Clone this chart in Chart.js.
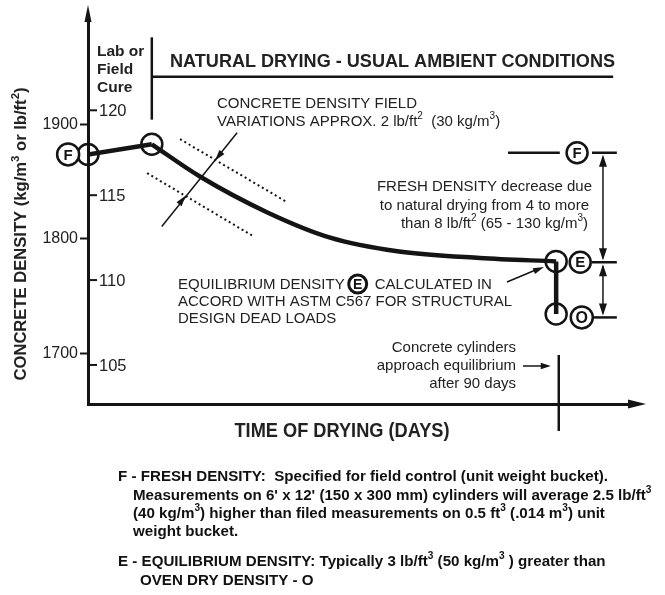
<!DOCTYPE html>
<html>
<head>
<meta charset="utf-8">
<script src="https://cdn.jsdelivr.net/npm/chart.js@4"></script>
<style>
  html, body { margin: 0; padding: 0; background: #fff; }
</style>
</head>
<body>
<canvas id="chart" width="665" height="595"></canvas>
<script>
// Schematic drying curve. x = time of drying (days), y = density in lb/ft3
// (the outer kg/m3 axis is a second scale over the same height)
const cureDays = [0, 12.2];
const cureDensity = [117.4, 118.0];

const dryDays = [12.2, 21.4, 34.2, 46.3, 59.1, 74.9, 89.5];
const dryDensity = [118.0, 116.1, 114.0, 112.5, 111.7, 111.3, 111.1];

const ovenDays = [89.5, 89.5];
const ovenDensity = [111.1, 108.0];

const bandUpperDays = [17.6, 38.0];
const bandUpperDensity = [118.3, 114.6];
const bandLowerDays = [11.3, 31.5];
const bandLowerDensity = [116.3, 112.6];

const markerDays = [0, 12.2, 89.5, 89.5];
const markerDensity = [117.4, 118.0, 111.1, 108.0];

const kgTicks = [1700, 1800, 1900];
const lbTicks = [105, 110, 115, 120];

const freshLevel = 117.5;
const equilLevel = 111.05;
const ovenLevel = 107.8;
const equilDay = 90;

const noteLines = [
  "F - FRESH DENSITY:  Specified for field control (unit weight bucket).",
  "Measurements on 6' x 12' (150 x 300 mm) cylinders will average 2.5 lb/ft{3}",
  "(40 kg/m{3}) higher than filed measurements on 0.5 ft{3} (.014 m{3}) unit",
  "weight bucket.",
  "E - EQUILIBRIUM DENSITY: Typically 3 lb/ft{3} (50 kg/m{3} ) greater than",
  "OVEN DRY DENSITY - O",
];

const FONT = '"Liberation Sans", Arial, Helvetica, sans-serif';
const INK = '#141414';
const TXT = '#222';

const pts = (xs, ys) => xs.map((x, i) => ({ x, y: ys[i] }));

function runsOf(str) {
  const runs = [];
  const re = /\{([^}]*)\}/g;
  let last = 0, m;
  while ((m = re.exec(str))) {
    if (m.index > last) runs.push({ t: str.slice(last, m.index), sup: false });
    runs.push({ t: m[1], sup: true });
    last = re.lastIndex;
  }
  if (last < str.length) runs.push({ t: str.slice(last), sup: false });
  return runs;
}

// text with {..} superscripts; o.fit squeezes to a width, o.sq squeezes by factor
function text(ctx, str, x, y, o = {}) {
  const size = o.size || 15;
  const wt = o.weight || 'normal';
  const main = `${wt} ${size}px ${FONT}`;
  const sup = `${wt} ${Math.round(size * 0.68)}px ${FONT}`;
  const runs = runsOf(str);
  let w = 0;
  runs.forEach(r => { ctx.font = r.sup ? sup : main; r.w = ctx.measureText(r.t).width; w += r.w; });
  const sx = o.fit ? o.fit / w : (o.sq || 1);
  ctx.save();
  ctx.translate(x, y);
  if (o.rot) ctx.rotate(o.rot);
  ctx.scale(sx, 1);
  let cx = o.align === 'right' ? -w : o.align === 'center' ? -w / 2 : 0;
  ctx.fillStyle = o.color || TXT;
  ctx.textAlign = 'left';
  ctx.textBaseline = 'middle';
  runs.forEach(r => {
    ctx.font = r.sup ? sup : main;
    ctx.fillText(r.t, cx, r.sup ? -size * 0.36 : 0);
    cx += r.w;
  });
  ctx.restore();
  return w * sx;
}

function line(ctx, x1, y1, x2, y2, lw) {
  ctx.beginPath();
  ctx.lineWidth = lw;
  ctx.moveTo(x1, y1);
  ctx.lineTo(x2, y2);
  ctx.stroke();
}

function arrowHead(ctx, tx, ty, fx, fy, len, half) {
  const a = Math.atan2(ty - fy, tx - fx);
  const c = Math.cos(a), s = Math.sin(a);
  ctx.beginPath();
  ctx.moveTo(tx, ty);
  ctx.lineTo(tx - len * c + half * s, ty - len * s - half * c);
  ctx.lineTo(tx - len * c - half * s, ty - len * s + half * c);
  ctx.closePath();
  ctx.fill();
}

function ring(ctx, x, y, r, letter, lw, size) {
  ctx.beginPath();
  ctx.arc(x, y, r, 0, Math.PI * 2);
  ctx.fillStyle = '#fff';
  ctx.fill();
  ctx.lineWidth = lw;
  ctx.strokeStyle = INK;
  ctx.stroke();
  ctx.fillStyle = INK;
  ctx.font = `bold ${size}px ${FONT}`;
  ctx.textAlign = 'center';
  ctx.textBaseline = 'middle';
  ctx.fillText(letter, x, y + 1);
}

const annotations = {
  id: 'annotations',
  afterDraw(chart) {
    const { ctx, chartArea: ca, scales } = chart;
    const X = d => scales.x.getPixelForValue(d);
    const Y = v => scales.yLb.getPixelForValue(v);
    ctx.save();
    ctx.strokeStyle = INK;
    ctx.fillStyle = INK;

    // axis arrows
    arrowHead(ctx, ca.left, ca.top - 15, ca.left, ca.top, 17, 3.5);
    line(ctx, ca.right - 2, ca.bottom, ca.right + 4, ca.bottom, 3);
    arrowHead(ctx, ca.right + 14, ca.bottom, ca.left, ca.bottom, 18, 4.5);

    // lb/ft3 ticks inside the axis
    lbTicks.forEach(v => {
      const y = Y(v);
      ctx.strokeStyle = INK;
      line(ctx, ca.left, y, ca.left + 9, y, 2);
      text(ctx, String(v), ca.left + 11, y + 1, { size: 16.5 });
    });

    // axis titles
    text(ctx, 'CONCRETE DENSITY (kg/m{3} or lb/ft{2})', 22, 234,
      { size: 16, weight: 'bold', align: 'center', rot: -Math.PI / 2, fit: 293 });
    text(ctx, 'TIME OF DRYING (DAYS)', 342, 432, { size: 19.5, weight: 'bold', align: 'center', fit: 215 });

    // phase bracket
    ctx.strokeStyle = INK;
    line(ctx, X(12.2), Y(124.3), X(12.2), Y(119.45), 2.5);
    line(ctx, X(12.2), Y(121.97), X(100.4), Y(121.97), 2.5);
    text(ctx, 'Lab or', 97, 52, { size: 15.5, weight: 'bold' });
    text(ctx, 'Field', 97, 70, { size: 15.5, weight: 'bold' });
    text(ctx, 'Cure', 97, 88, { size: 15.5, weight: 'bold' });
    text(ctx, 'NATURAL DRYING - USUAL AMBIENT CONDITIONS', 170, 62, { size: 18, weight: 'bold', fit: 445 });

    // field variation note and dimension arrow
    text(ctx, 'CONCRETE DENSITY FIELD', 217, 104, { size: 15 });
    text(ctx, 'VARIATIONS APPROX. 2 lb/ft{2}  (30 kg/m{3})', 217, 122, { size: 15 });
    ctx.strokeStyle = INK;
    ctx.fillStyle = INK;
    line(ctx, X(28.5), Y(118.68), X(14.1), Y(113.16), 1.5);
    arrowHead(ctx, X(24.3), Y(117.04), X(28.5), Y(118.68), 11, 3.2);
    arrowHead(ctx, X(18.7), Y(114.98), X(14.1), Y(113.16), 11, 3.2);

    // left F marker
    ring(ctx, X(-3.8), Y(117.4), 11, 'F', 2.5, 15);

    // right side F / E / O reference
    ctx.strokeStyle = INK;
    ctx.fillStyle = INK;
    line(ctx, X(80.3), Y(freshLevel), X(90.2), Y(freshLevel), 2.5);
    [freshLevel, equilLevel, ovenLevel].forEach(v => line(ctx, X(96.35), Y(v), X(101.1), Y(v), 2.5));
    const ax = X(98.45);
    line(ctx, ax, Y(freshLevel) + 4, ax, Y(equilLevel) - 4, 1.5);
    arrowHead(ctx, ax, Y(freshLevel) + 2, ax, Y(equilLevel), 12, 4);
    arrowHead(ctx, ax, Y(equilLevel) - 2, ax, Y(freshLevel), 12, 4);
    line(ctx, ax, Y(equilLevel) + 4, ax, Y(ovenLevel) - 4, 1.5);
    arrowHead(ctx, ax, Y(equilLevel) + 2, ax, Y(ovenLevel), 12, 4);
    arrowHead(ctx, ax, Y(ovenLevel) - 2, ax, Y(equilLevel), 12, 4);
    ring(ctx, X(93.5), Y(freshLevel), 10.5, 'F', 2.5, 15);
    ring(ctx, X(94.1), Y(equilLevel), 10.5, 'E', 2.5, 15);
    ring(ctx, X(94.4), Y(ovenLevel), 11, 'O', 2.5, 16);

    text(ctx, 'FRESH DENSITY decrease due', 592, 187, { size: 15, align: 'right' });
    text(ctx, 'to natural drying from 4 to more', 589, 206, { size: 15, align: 'right' });
    text(ctx, 'than 8 lb/ft{2} (65 - 130 kg/m{3})', 588, 224, { size: 15, align: 'right' });

    // equilibrium note
    const w1 = text(ctx, 'EQUILIBRIUM DENSITY', 178, 285, { size: 15 });
    const ex = 178 + w1 + 13;
    ctx.beginPath();
    ctx.arc(ex, 284, 9, 0, Math.PI * 2);
    ctx.lineWidth = 3;
    ctx.strokeStyle = INK;
    ctx.stroke();
    ctx.fillStyle = INK;
    ctx.font = `bold 14px ${FONT}`;
    ctx.textAlign = 'center';
    ctx.textBaseline = 'middle';
    ctx.fillText('E', ex, 285);
    text(ctx, 'CALCULATED IN', ex + 17, 285, { size: 15 });
    text(ctx, 'ACCORD WITH ASTM C567 FOR STRUCTURAL', 178, 302, { size: 15 });
    text(ctx, 'DESIGN DEAD LOADS', 178, 319, { size: 15 });
    ctx.strokeStyle = INK;
    ctx.fillStyle = INK;
    line(ctx, 507, 282, 538, 269, 1.5);
    arrowHead(ctx, 544, 267, 507, 282, 11, 3.2);

    // 90 day marker
    const dx = X(equilDay);
    line(ctx, dx, ca.bottom - 49, dx, ca.bottom + 27, 2.5);
    text(ctx, 'Concrete cylinders', 516, 348, { size: 15, align: 'right' });
    text(ctx, 'approach equilibrium', 516, 366, { size: 15, align: 'right' });
    text(ctx, 'after 90 days', 516, 384, { size: 15, align: 'right' });
    ctx.strokeStyle = INK;
    ctx.fillStyle = INK;
    line(ctx, 523, 366, 544, 366, 1.5);
    arrowHead(ctx, dx - 8, 366, 523, 366, 10, 3.2);

    // notes below
    ctx.font = `bold 15px ${FONT}`;
    const sq = 490 / ctx.measureText(noteLines[0]).width;
    const noteX = [118, 133, 133, 133, 118, 140];
    const noteY = [477, 496, 514, 532, 562, 581];
    noteLines.forEach((s, i) => text(ctx, s, noteX[i], noteY[i], { size: 15, weight: 'bold', sq, color: '#111' }));

    ctx.restore();
  }
};

new Chart(document.getElementById('chart'), {
  type: 'line',
  data: {
    datasets: [
      { data: pts(cureDays, cureDensity), borderColor: INK, borderWidth: 4.5, pointRadius: 0, yAxisID: 'yLb' },
      { data: pts(dryDays, dryDensity), borderColor: INK, borderWidth: 4.5, pointRadius: 0,
        cubicInterpolationMode: 'monotone', yAxisID: 'yLb' },
      { data: pts(ovenDays, ovenDensity), borderColor: INK, borderWidth: 4.5, pointRadius: 0, yAxisID: 'yLb' },
      { data: pts(bandUpperDays, bandUpperDensity), borderColor: INK, borderWidth: 2, borderDash: [2, 3],
        pointRadius: 0, yAxisID: 'yLb' },
      { data: pts(bandLowerDays, bandLowerDensity), borderColor: INK, borderWidth: 2, borderDash: [2, 3],
        pointRadius: 0, yAxisID: 'yLb' },
      { data: pts(markerDays, markerDensity), showLine: false, pointRadius: 10.5, pointBorderWidth: 2.5,
        pointBorderColor: INK, pointBackgroundColor: 'rgba(0,0,0,0)', clip: false, yAxisID: 'yLb' },
    ],
  },
  options: {
    responsive: false,
    animation: false,
    events: [],
    layout: { padding: { top: 20, right: 33, bottom: 191, left: 0 } },
    plugins: { legend: { display: false }, tooltip: { enabled: false } },
    scales: {
      x: {
        type: 'linear', min: 0, max: 104,
        ticks: { display: false },
        grid: { display: false },
        border: { display: true, color: INK, width: 3 },
        afterFit: s => { s.height = 0; },
      },
      yKg: {
        position: 'left', min: 1656, max: 1991,
        afterBuildTicks: s => { s.ticks = kgTicks.map(v => ({ value: v })); },
        ticks: { font: { family: FONT, size: 16 }, color: TXT, padding: 2, callback: v => String(v) },
        grid: { drawOnChartArea: false, tickLength: 8, tickWidth: 2, tickColor: INK, color: INK },
        border: { display: true, color: INK, width: 3 },
        afterFit: s => { s.width = 88; },
      },
      yLb: { position: 'left', display: false, min: 102.7, max: 125.32 },
    },
  },
  plugins: [annotations],
});
</script>
</body>
</html>
